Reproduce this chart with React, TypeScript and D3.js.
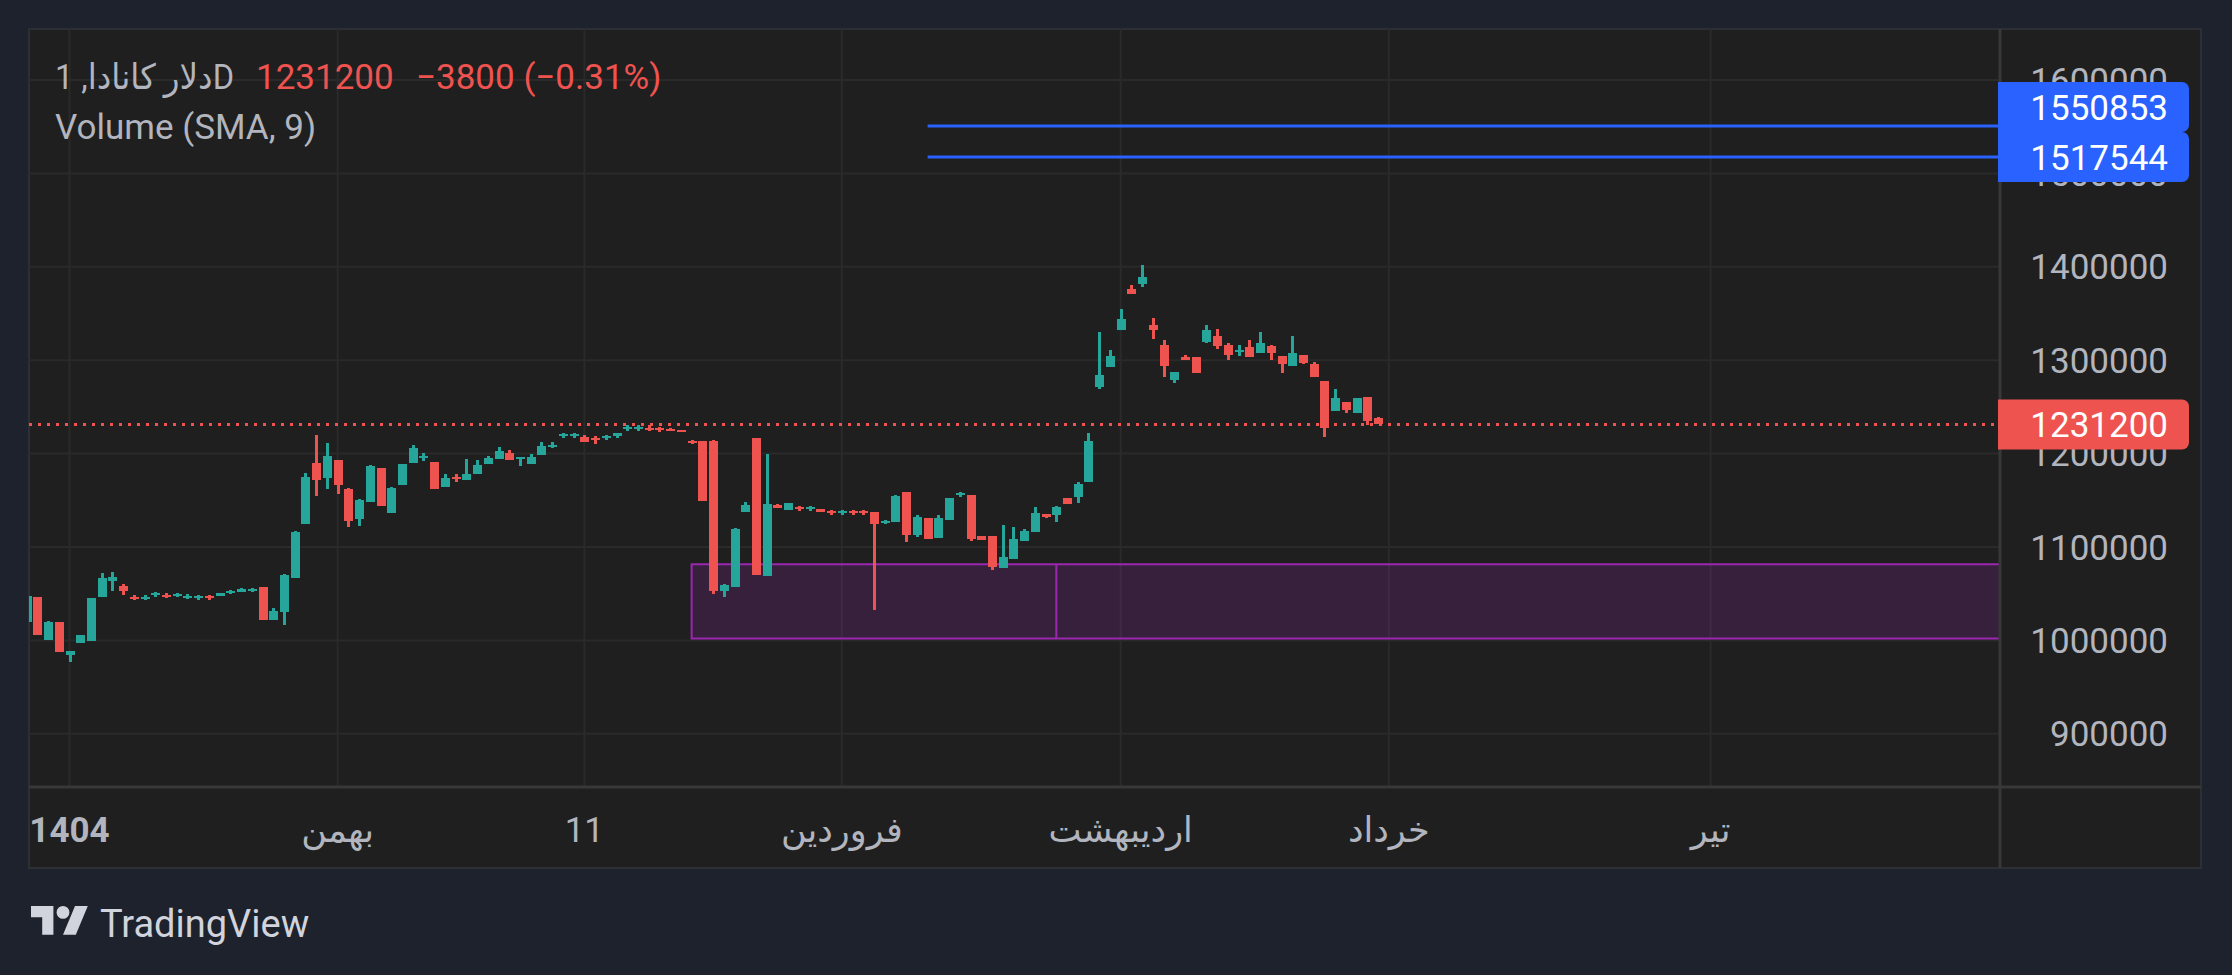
import React from 'react';
import * as d3 from 'd3';

const W = 2232;
const H = 975;

// daily candles, [open, high, low, close]
const candles: [number, number, number, number][] = [
  [1020000, 1047600, 1020000, 1047600],
  [1046500, 1046500, 1005700, 1005700],
  [1000400, 1020700, 1000400, 1020000],
  [1019700, 1019700, 987500, 987500],
  [984300, 988500, 976700, 988500],
  [997100, 1005700, 997100, 1005700],
  [999300, 1045400, 999300, 1045400],
  [1046500, 1072300, 1046500, 1066900],
  [1063700, 1073300, 1052900, 1068000],
  [1058300, 1060500, 1048700, 1052900],
  [1046500, 1048700, 1043300, 1045400],
  [1045400, 1048700, 1043300, 1046500],
  [1049000, 1051900, 1046500, 1050400],
  [1049000, 1050800, 1045400, 1046900],
  [1047900, 1051200, 1046500, 1050100],
  [1046500, 1049700, 1044400, 1047900],
  [1045800, 1049000, 1043300, 1047200],
  [1047600, 1049000, 1043300, 1045400],
  [1047900, 1050800, 1047900, 1050800],
  [1050800, 1054000, 1049700, 1052600],
  [1052200, 1056200, 1052200, 1055100],
  [1052900, 1056500, 1051900, 1055500],
  [1057200, 1057200, 1021800, 1021800],
  [1021800, 1034700, 1021800, 1031500],
  [1030400, 1071200, 1016400, 1070100],
  [1066900, 1117400, 1066900, 1116300],
  [1124900, 1179600, 1124900, 1175300],
  [1190300, 1220400, 1154900, 1172100],
  [1174200, 1211800, 1162400, 1197900],
  [1193600, 1193600, 1157100, 1166700],
  [1162400, 1163500, 1121600, 1128100],
  [1130200, 1151700, 1122700, 1150600],
  [1148500, 1188200, 1148500, 1187100],
  [1185000, 1185000, 1144200, 1144200],
  [1136700, 1164600, 1136700, 1163500],
  [1166700, 1189300, 1166700, 1189300],
  [1190300, 1209700, 1190300, 1206400],
  [1195700, 1201100, 1192500, 1197900],
  [1191400, 1191400, 1162400, 1162400],
  [1164600, 1178500, 1164600, 1174200],
  [1175300, 1178500, 1170000, 1173200],
  [1172100, 1194600, 1172100, 1178500],
  [1178500, 1193600, 1178500, 1188200],
  [1189300, 1197900, 1189300, 1195700],
  [1194600, 1207500, 1194600, 1203200],
  [1201100, 1204300, 1193600, 1193600],
  [1194600, 1196800, 1187100, 1196100],
  [1189300, 1200000, 1189300, 1196800],
  [1198900, 1212900, 1198900, 1208600],
  [1207500, 1212900, 1206400, 1209700],
  [1219300, 1222500, 1217200, 1220800],
  [1219300, 1222500, 1217200, 1220800],
  [1218300, 1220400, 1212900, 1212900],
  [1217200, 1219300, 1210700, 1216100],
  [1217200, 1220400, 1215000, 1218600],
  [1219300, 1222500, 1217200, 1222500],
  [1226800, 1230100, 1224700, 1228300],
  [1226800, 1230100, 1224700, 1228300],
  [1227900, 1231100, 1224700, 1226100],
  [1227200, 1229000, 1223600, 1225000],
  [1226800, 1227900, 1224000, 1224000],
  [1225800, 1225800, 1222900, 1222900],
  [1214000, 1215000, 1210700, 1212200],
  [1214000, 1214000, 1149600, 1149600],
  [1214000, 1215000, 1049700, 1052900],
  [1052900, 1060500, 1046500, 1059400],
  [1057200, 1120600, 1057200, 1119500],
  [1137700, 1148500, 1137700, 1145300],
  [1217200, 1217200, 1070100, 1070100],
  [1069100, 1200000, 1069100, 1146300],
  [1145300, 1146300, 1142000, 1142000],
  [1139900, 1147400, 1139900, 1147400],
  [1143100, 1144200, 1138800, 1141000],
  [1141000, 1144200, 1138800, 1142400],
  [1141000, 1141000, 1137700, 1137700],
  [1138100, 1139900, 1134500, 1136700],
  [1136700, 1139900, 1134500, 1138100],
  [1138100, 1139900, 1134500, 1136700],
  [1138100, 1139900, 1134500, 1136700],
  [1137700, 1137700, 1032600, 1124900],
  [1126300, 1129200, 1124900, 1128100],
  [1127000, 1156000, 1127000, 1154900],
  [1159200, 1159200, 1105500, 1113100],
  [1113100, 1134500, 1110900, 1132400],
  [1131300, 1131300, 1108800, 1108800],
  [1109800, 1134500, 1109800, 1131300],
  [1129200, 1152800, 1129200, 1152800],
  [1155300, 1159200, 1153800, 1157400],
  [1156000, 1156000, 1106600, 1108800],
  [1112000, 1112000, 1107700, 1107700],
  [1112000, 1112000, 1075500, 1078700],
  [1077600, 1123800, 1077600, 1089400],
  [1087300, 1121600, 1087300, 1108800],
  [1106600, 1119500, 1106600, 1117400],
  [1116300, 1143100, 1116300, 1136700],
  [1135500, 1135500, 1131100, 1131800],
  [1134000, 1144000, 1126500, 1142900],
  [1152500, 1152500, 1145800, 1145800],
  [1153200, 1169700, 1146800, 1167500],
  [1169300, 1222500, 1169300, 1214000],
  [1271100, 1330700, 1268900, 1284300],
  [1292500, 1310400, 1292500, 1304700],
  [1332200, 1354300, 1332200, 1343600],
  [1375700, 1380000, 1371400, 1371400],
  [1381100, 1401400, 1377900, 1388600],
  [1337200, 1344700, 1322200, 1331800],
  [1316800, 1321100, 1282500, 1294300],
  [1279300, 1287900, 1276100, 1287900],
  [1302900, 1306100, 1299700, 1300700],
  [1302900, 1302900, 1286800, 1286800],
  [1320000, 1337200, 1317900, 1331800],
  [1325400, 1332900, 1312500, 1315700],
  [1316800, 1317900, 1300700, 1306100],
  [1309300, 1316800, 1305000, 1311400],
  [1313600, 1321100, 1303900, 1303900],
  [1307200, 1330700, 1307200, 1318900],
  [1315700, 1316800, 1300700, 1307200],
  [1305000, 1305000, 1286800, 1295400],
  [1294300, 1325400, 1294300, 1308200],
  [1306100, 1306100, 1296400, 1297500],
  [1296400, 1298600, 1282500, 1282500],
  [1278200, 1278200, 1218200, 1227900],
  [1246100, 1269700, 1246100, 1260000],
  [1255700, 1255700, 1244000, 1247200],
  [1244000, 1260000, 1244000, 1259000],
  [1261100, 1261100, 1231100, 1235000],
  [1238600, 1239700, 1231200, 1231200],
];

const priceTicks = [900000, 1000000, 1100000, 1200000, 1300000, 1400000, 1500000, 1600000];
const timeTicks = [4, 29, 52, 76, 102, 127, 157];
const timeLabels = ['1404', 'بهمن', '11', 'فروردین', 'اردیبهشت', 'خرداد', 'تیر'];

const lastPrice = 1231200;
const alertLevels = [1550853, 1517544];
const alertFrom = 84;
// demand zone: start bar, split bar, top, bottom
const zoneBars = [62, 96];
const zonePrices = [1081500, 1002000];

const FONT = 'Roboto, "DejaVu Sans", sans-serif';
const UP = '#26a69a';
const DOWN = '#ef5350';
const TEXT = '#b2b5be';

const plot = { left: 29, top: 29, right: 1999, bottom: 786 };

const labelPath = (x0: number, yc: number, w: number, h: number, r: number) => {
  const y0 = yc - h / 2;
  const y1 = yc + h / 2;
  const x1 = x0 + w;
  return `M${x0},${y0}H${x1 - r}A${r},${r} 0 0 1 ${x1},${y0 + r}V${y1 - r}A${r},${r} 0 0 1 ${x1 - r},${y1}H${x0}Z`;
};

const App: React.FC = () => {
  const x = d3.scaleLinear().domain([0, 126]).range([26.6, 1378.1]);
  const y = d3.scaleLinear().domain([1000000, 1600000]).range([640.4, 80]);

  // price labels, pushed up when they overlap
  const labelH = 50;
  const blueY = alertLevels.map((v) => y(v)).sort((a, b) => b - a);
  const placed: number[] = [];
  blueY.forEach((yy, i) => {
    placed.push(i === 0 ? yy : Math.min(yy, placed[i - 1] - labelH));
  });
  const blueLabels = alertLevels
    .map((v) => ({ v, yy: y(v) }))
    .sort((a, b) => b.yy - a.yy)
    .map((d, i) => ({ ...d, ly: placed[i] }));

  return (
    <svg
      width={W}
      height={H}
      style={{ position: 'fixed', left: 0, top: 0, fontFamily: FONT }}
    >
      <defs>
        <clipPath id="plot">
          <rect x={plot.left} y={plot.top} width={plot.right - plot.left} height={plot.bottom - plot.top} />
        </clipPath>
      </defs>
      <rect width={W} height={H} fill="#1e222d" />
      <rect x={29} y={29} width={2172} height={839} fill="#1f1f1f" stroke="#2c2f36" strokeWidth={2} />

      <g clipPath="url(#plot)">
        {priceTicks.map((t) => (
          <line key={t} x1={plot.left} x2={plot.right} y1={y(t)} y2={y(t)} stroke="#2a2a2a" strokeWidth={2} />
        ))}
        {timeTicks.map((t) => (
          <line key={t} x1={x(t)} x2={x(t)} y1={plot.top} y2={plot.bottom} stroke="#2a2a2a" strokeWidth={2} />
        ))}

        <rect
          x={x(zoneBars[0])}
          y={y(zonePrices[0])}
          width={plot.right + 10 - x(zoneBars[0])}
          height={y(zonePrices[1]) - y(zonePrices[0])}
          fill="rgba(156,39,176,0.2)"
          stroke="#9c27b0"
          strokeWidth={2}
        />
        <line
          x1={x(zoneBars[1])}
          x2={x(zoneBars[1])}
          y1={y(zonePrices[0])}
          y2={y(zonePrices[1])}
          stroke="#9c27b0"
          strokeWidth={2}
        />

        {alertLevels.map((v) => (
          <line key={v} x1={x(alertFrom)} x2={plot.right} y1={y(v)} y2={y(v)} stroke="#2962ff" strokeWidth={3} />
        ))}

        <line
          x1={plot.left}
          x2={plot.right}
          y1={y(lastPrice)}
          y2={y(lastPrice)}
          stroke={DOWN}
          strokeWidth={3}
          strokeDasharray="3,6"
        />

        {candles.map(([o, h, l, c], i) => {
          const cx = Math.round(x(i));
          const color = c >= o ? UP : DOWN;
          const top = y(Math.max(o, c));
          const bh = Math.max(y(Math.min(o, c)) - top, 2);
          return (
            <g key={i} fill={color} shapeRendering="crispEdges">
              <rect x={cx - 1.5} y={y(h)} width={3} height={Math.max(y(l) - y(h), 2)} />
              <rect x={cx - 4.5} y={top} width={9} height={bh} />
            </g>
          );
        })}
      </g>

      {/* legend */}
      <text x={55} y={89} fontSize={35} fill={TEXT} textLength={179} lengthAdjust="spacingAndGlyphs">
        دلار کانادا, 1D
      </text>
      <text x={256} y={89} fontSize={35} fill={DOWN}>
        1231200
      </text>
      <text x={416} y={89} fontSize={35} fill={DOWN}>
        −3800 (−0.31%)
      </text>
      <text x={55} y={139} fontSize={35} fill={TEXT}>
        Volume (SMA, 9)
      </text>

      {/* axes */}
      <line x1={2000} x2={2000} y1={29} y2={868} stroke="#383838" strokeWidth={3} />
      <line x1={29} x2={2201} y1={787} y2={787} stroke="#383838" strokeWidth={3} />

      {priceTicks.map((t) => (
        <text key={t} x={2168} y={y(t) + 12.5} fontSize={35} fill={TEXT} textAnchor="end">
          {t}
        </text>
      ))}
      {timeTicks.map((t, i) => (
        <text
          key={t}
          x={x(t)}
          y={842}
          fontSize={35}
          fill={TEXT}
          textAnchor="middle"
          fontWeight={i === 0 ? 700 : 400}
        >
          {timeLabels[i]}
        </text>
      ))}

      {blueLabels.map((d) => (
        <g key={d.v}>
          <path d={labelPath(1998, d.ly, 191, labelH, 7)} fill="#2962ff" />
          <text x={2168} y={d.ly + 12.5} fontSize={35} fill="#ffffff" textAnchor="end">
            {d.v}
          </text>
        </g>
      ))}
      <path d={labelPath(1998, y(lastPrice), 191, labelH, 7)} fill={DOWN} />
      <text x={2168} y={y(lastPrice) + 12.5} fontSize={35} fill="#ffffff" textAnchor="end">
        {lastPrice}
      </text>

      {/* logo */}
      <g transform="translate(31,899.6) scale(1.6)" fill="#d1d4dc">
        <path d="M14 22H7V11H0V4h14v18z" />
        <path d="M28 22h-8l7.5-18h8L28 22z" />
        <circle cx={20} cy={8} r={4} />
      </g>
      <text x={100} y={937} fontSize={38} fill="#d1d4dc">
        TradingView
      </text>
    </svg>
  );
};

export default App;
